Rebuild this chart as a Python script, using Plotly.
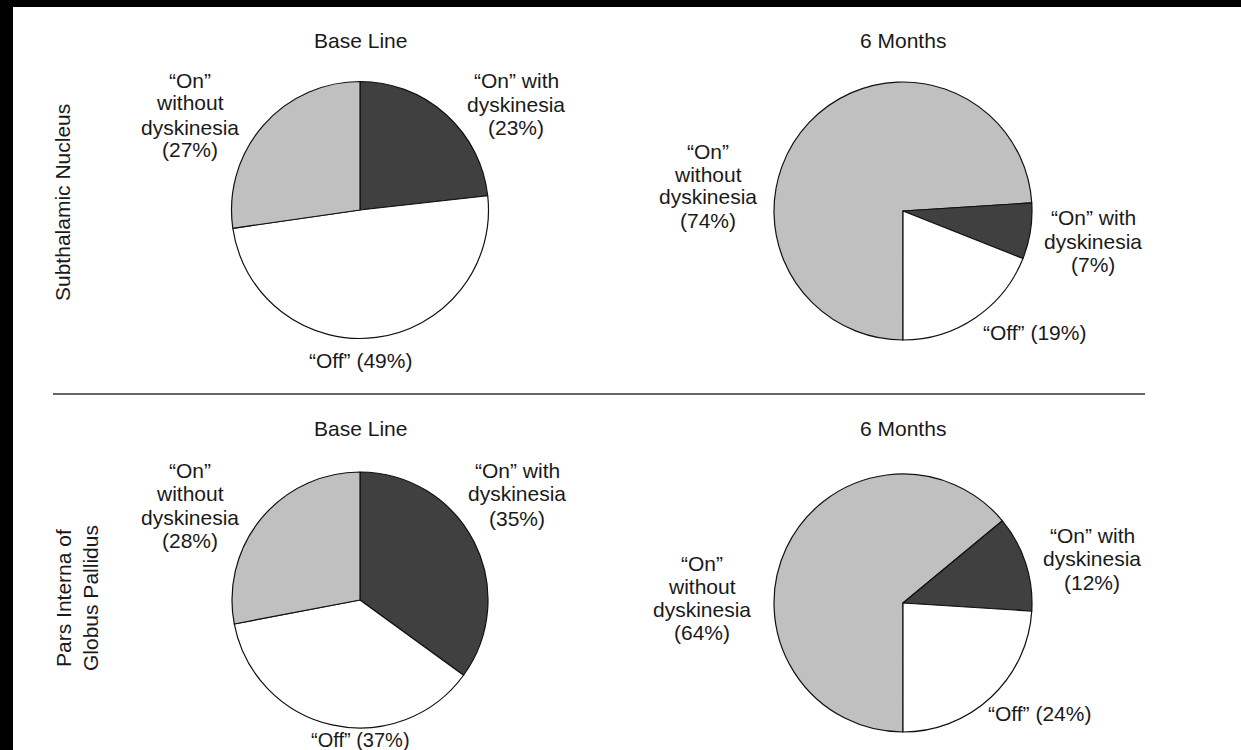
import plotly.graph_objects as go

W, H = 1241, 750

# ---- data ----
categories = ["“On” with dyskinesia", "“Off”", "“On” without dyskinesia"]
stn_base = [23, 49, 27]
stn_6m = [7, 19, 74]
gpi_base = [35, 37, 28]
gpi_6m = [12, 24, 64]
col_titles = ["Base Line", "6 Months"]
row_titles = ["Subthalamic Nucleus", "Pars Interna of<br>Globus Pallidus"]

colors = {categories[0]: "#404040", categories[1]: "#ffffff", categories[2]: "#c0c0c0"}
FONT = "Liberation Sans, Arial, Helvetica, sans-serif"
TXT = "#1a1a1a"


def px(x, y):
    return x / W, 1 - y / H


fig = go.Figure()


def add_pie(values, cx, cy, r, order, rotation):
    labs = [categories[i] for i in order]
    vals = [values[i] for i in order]
    x0, y1 = px(cx - r, cy - r)
    x1, y0 = px(cx + r, cy + r)
    fig.add_trace(go.Pie(
        labels=labs, values=vals, sort=False, direction="clockwise",
        rotation=rotation, textinfo="none", hoverinfo="label+percent",
        marker=dict(colors=[colors[l] for l in labs], line=dict(color="#111111", width=1.2)),
        domain=dict(x=[x0, x1], y=[y0, y1]), showlegend=False,
    ))


def add_lines(lines, cx, ys, size=21):
    for t, y in zip(lines, ys):
        x, yy = px(cx, y)
        fig.add_annotation(x=x, y=yy, xref="paper", yref="paper", text=t, showarrow=False,
                           xanchor="center", yanchor="middle",
                           font=dict(family=FONT, size=size, color=TXT))


def with_lines(v):
    return ["“On” with", "dyskinesia", f"({v}%)"]


def without_lines(v):
    return ["“On”", "without", "dyskinesia", f"({v}%)"]


def off_lines(v):
    return [f"“Off” ({v}%)"]


# pies: base line pies start at 12 o'clock with "with dyskinesia"; 6-month pies start at 6 o'clock with "without"
add_pie(stn_base, 360, 210, 128.5, [0, 1, 2], 0)
add_pie(stn_6m, 903, 211, 129, [2, 0, 1], 180)
add_pie(gpi_base, 360, 600, 128, [0, 1, 2], 0)
add_pie(gpi_6m, 903, 603, 129, [2, 0, 1], 180)

# column titles
for cx, title in zip((360, 903), col_titles):
    add_lines([title], cx, [40])
    add_lines([title], cx, [429])

# STN base labels
add_lines(without_lines(stn_base[2]), 190, [80, 103, 127, 150])
add_lines(with_lines(stn_base[0]), 516, [80, 104, 127])
add_lines(off_lines(stn_base[1]), 360, [360])

# STN 6 months labels
add_lines(without_lines(stn_6m[2]), 708, [151, 174, 197, 220])
add_lines(with_lines(stn_6m[0]), 1093, [217, 241, 264])
add_lines(off_lines(stn_6m[1]), 1034, [333])

# GPi base labels
add_lines(without_lines(gpi_base[2]), 190, [470, 493, 517, 540])
add_lines(with_lines(gpi_base[0]), 517, [470, 494, 518])
add_lines(off_lines(gpi_base[1]), 360, [740], size=20)

# GPi 6 months labels
add_lines(without_lines(gpi_6m[2]), 702, [563, 586, 609, 632])
add_lines(with_lines(gpi_6m[0]), 1092, [535, 558, 582])
add_lines(off_lines(gpi_6m[1]), 1039, [713])

# row titles (rotated)
for txt, cx, cy in ((row_titles[0], 63, 203), (row_titles[1], 77, 598)):
    x, y = px(cx, cy)
    fig.add_annotation(x=x, y=y, xref="paper", yref="paper", text=txt, showarrow=False,
                       textangle=-90, xanchor="center", yanchor="middle",
                       font=dict(family=FONT, size=21, color=TXT))

# separator line and black scan borders
lx0, ly = px(53, 394)
lx1, _ = px(1145, 394)
fig.add_shape(type="line", xref="paper", yref="paper", x0=lx0, x1=lx1, y0=ly, y1=ly,
              line=dict(color="#333333", width=1.5))
fig.add_shape(type="rect", xref="paper", yref="paper", x0=0, x1=1, y0=1 - 7 / H, y1=1.01,
              fillcolor="black", line=dict(width=0))
fig.add_shape(type="rect", xref="paper", yref="paper", x0=-0.01, x1=13 / W, y0=-0.01, y1=1.01,
              fillcolor="black", line=dict(width=0))

fig.update_layout(width=W, height=H, margin=dict(l=0, r=0, t=0, b=0),
                  paper_bgcolor="white", plot_bgcolor="white", showlegend=False)

fig.write_html("out.html", config={"displayModeBar": False},
               post_script="document.body.style.margin='0px';document.body.style.overflow='hidden';")
